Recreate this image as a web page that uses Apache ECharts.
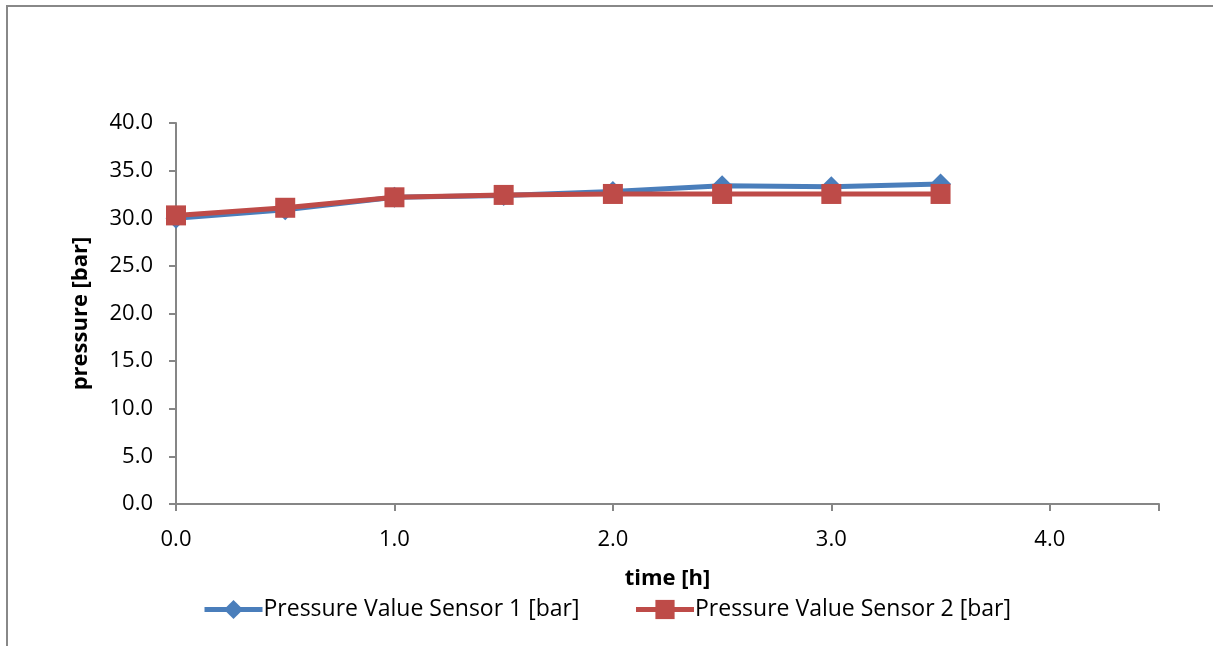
<!DOCTYPE html>
<html>
<head>
<meta charset="utf-8">
<style>
  html, body { margin: 0; padding: 0; background: #fff; }
  #chart { width: 1213px; height: 646px; }
</style>
<script src="https://cdn.jsdelivr.net/npm/echarts@6/dist/echarts.min.js"></script>
</head>
<body>
<div id="chart"></div>
<script>
// Time in hours and pressure readings for both sensors
const timeHours = [0.0, 0.5, 1.0, 1.5, 2.0, 2.5, 3.0, 3.5];
const sensor1 = [30.0, 30.9, 32.2, 32.4, 32.8, 33.4, 33.3, 33.6];
const sensor2 = [30.3, 31.1, 32.2, 32.45, 32.55, 32.55, 32.55, 32.55];
const seriesNames = ['Pressure Value Sensor 1 [bar]', 'Pressure Value Sensor 2 [bar]'];
const xAxisName = 'time [h]';
const yAxisName = 'pressure [bar]';

const FONT = '"Open Sans", "Noto Sans", sans-serif';
const AXIS_GREY = '#868686';
const BLUE = '#4a7ebb';
const RED = '#be4b48';

const chart = echarts.init(document.getElementById('chart'), null, { renderer: 'canvas' });

chart.setOption({
  animation: false,
  backgroundColor: '#ffffff',
  textStyle: { fontFamily: FONT },
  graphic: [{
    type: 'rect',
    shape: { x: 7, y: 6, width: 1230, height: 680 },
    style: { fill: 'none', stroke: '#888888', lineWidth: 2 },
    silent: true
  }],
  grid: { left: 176, top: 123, right: 54, bottom: 142 },
  legend: {
    bottom: 20,
    left: 'center',
    itemGap: 54,
    itemWidth: 58,
    itemHeight: 24,
    textStyle: { fontFamily: FONT, fontSize: 23, color: '#000', padding: [0, 0, 0, -4] },
    data: [
      { name: seriesNames[0], lineStyle: { width: 5, color: BLUE } },
      { name: seriesNames[1], lineStyle: { width: 5, color: RED } }
    ]
  },
  xAxis: {
    type: 'value',
    min: 0, max: 4.5, interval: 1,
    name: xAxisName,
    nameLocation: 'middle',
    nameGap: 64,
    nameTextStyle: { fontFamily: FONT, fontSize: 22, fontWeight: 'bold', color: '#000' },
    axisLine: { show: true, lineStyle: { color: AXIS_GREY, width: 2 } },
    axisTick: { show: true, inside: false, length: 7, lineStyle: { color: AXIS_GREY, width: 2 } },
    axisLabel: {
      fontFamily: FONT, fontSize: 22, color: '#000', margin: 25,
      formatter: v => (v > 4 ? '' : v.toFixed(1))
    },
    splitLine: { show: false }
  },
  yAxis: {
    type: 'value',
    min: 0, max: 40, interval: 5,
    name: yAxisName,
    nameLocation: 'middle',
    nameGap: 84,
    nameRotate: 90,
    nameTextStyle: { fontFamily: FONT, fontSize: 22, fontWeight: 'bold', color: '#000' },
    axisLine: { show: true, lineStyle: { color: AXIS_GREY, width: 2 } },
    axisTick: { show: true, inside: false, length: 7, lineStyle: { color: AXIS_GREY, width: 2 } },
    axisLabel: {
      fontFamily: FONT, fontSize: 22, color: '#000', margin: 23,
      formatter: v => v.toFixed(1)
    },
    splitLine: { show: false }
  },
  series: [
    {
      name: seriesNames[0],
      type: 'line',
      data: timeHours.map((t, i) => [t, sensor1[i]]),
      symbol: 'diamond',
      symbolSize: 21,
      itemStyle: { color: BLUE },
      lineStyle: { color: BLUE, width: 5 },
      z: 2
    },
    {
      name: seriesNames[1],
      type: 'line',
      data: timeHours.map((t, i) => [t, sensor2[i]]),
      symbol: 'rect',
      symbolSize: 20,
      itemStyle: { color: RED },
      lineStyle: { color: RED, width: 5 },
      z: 3
    }
  ]
});
</script>
</body>
</html>
